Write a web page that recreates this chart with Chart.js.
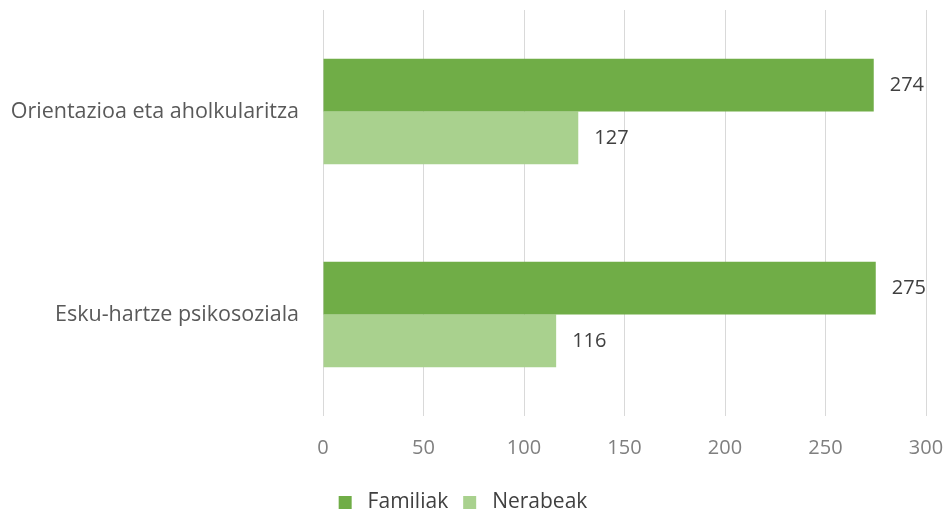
<!DOCTYPE html>
<html>
<head>
<meta charset="utf-8">
<script src="https://cdn.jsdelivr.net/npm/chart.js@4"></script>
<style>
  html, body { margin: 0; padding: 0; background: #fff; }
  #wrap { width: 950px; height: 515px; }
</style>
</head>
<body>
<div id="wrap"><canvas id="barChart" width="950" height="515"></canvas></div>
<script>
const categories = ["Orientazioa eta aholkularitza", "Esku-hartze psikosoziala"];
const familiak = [274, 275];
const nerabeak = [127, 116];
const xTicks = [0, 50, 100, 150, 200, 250, 300];

const FONT = "'Open Sans', sans-serif";

// value labels right of each bar
const barLabels = {
  id: "barLabels",
  afterDatasetsDraw(chart) {
    const ctx = chart.ctx;
    ctx.save();
    ctx.font = "20px " + FONT;
    ctx.fillStyle = "#404040";
    ctx.textAlign = "left";
    ctx.textBaseline = "middle";
    chart.data.datasets.forEach((ds, i) => {
      chart.getDatasetMeta(i).data.forEach((bar, j) => {
        ctx.fillText(ds.data[j], bar.x + 16, bar.y);
      });
    });
    ctx.restore();
  },
};

const chart = new Chart(document.getElementById("barChart").getContext("2d"), {
  type: "bar",
  data: {
    labels: categories,
    datasets: [
      {
        label: "Familiak",
        data: familiak,
        backgroundColor: "#70ad47",
        categoryPercentage: 0.52,
        barPercentage: 1,
      },
      {
        label: "Nerabeak",
        data: nerabeak,
        backgroundColor: "#a9d18e",
        categoryPercentage: 0.52,
        barPercentage: 1,
      },
    ],
  },
  options: {
    indexAxis: "y",
    responsive: false,
    animation: false,
    layout: { padding: { top: 10, right: 24, left: 0, bottom: -8 } },
    plugins: {
      legend: {
        display: true,
        position: "bottom",
        labels: {
          color: "#404040",
          font: { family: FONT, size: 21 },
          boxWidth: 13,
          boxHeight: 13,
          padding: 15,
          // a bit more room between the swatch and its text
          generateLabels: (chart) =>
            Chart.defaults.plugins.legend.labels
              .generateLabels(chart)
              .map((item) => ({ ...item, text: " " + item.text })),
        },
      },
      tooltip: { enabled: false },
    },
    scales: {
      x: {
        min: 0,
        max: 300,
        afterBuildTicks: (scale) => {
          scale.ticks = xTicks.map((v) => ({ value: v }));
        },
        afterFit: (scale) => {
          scale.paddingLeft = 0;
          scale.paddingRight = 0;
          scale.height = 61;
        },
        grid: { color: "#d9d9d9", lineWidth: 1, tickLength: 0, drawTicks: false },
        border: { display: false },
        ticks: {
          color: "#7f7f7f",
          font: { family: FONT, size: 20 },
          padding: 20,
        },
      },
      y: {
        grid: { display: false },
        border: { display: false },
        afterFit: (scale) => {
          scale.width = 323;
          scale.paddingTop = 0;
          scale.paddingBottom = 0;
        },
        ticks: {
          color: "#595959",
          font: { family: FONT, size: 21.5 },
          padding: 16,
        },
      },
    },
  },
  plugins: [barLabels],
});
</script>
</body>
</html>
